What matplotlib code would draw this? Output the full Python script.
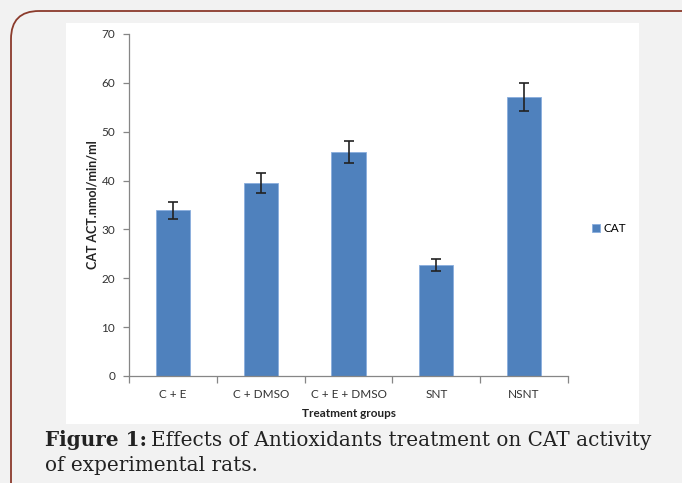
import matplotlib.pyplot as plt
from matplotlib.patches import Rectangle, FancyBboxPatch
import numpy as np

# data
groups = ['C + E', 'C + DMSO', 'C + E + DMSO', 'SNT', 'NSNT']
cat_values = [33.9, 39.5, 45.8, 22.7, 57.1]
cat_errors = [1.7, 2.0, 2.3, 1.2, 2.8]
y_ticks = [0, 10, 20, 30, 40, 50, 60, 70]

W, H = 682, 483
fig = plt.figure(figsize=(W / 100, H / 100), dpi=100)
fig.patch.set_facecolor('#f2f2f2')

# background layer in pixel coords
bg = fig.add_axes([0, 0, 1, 1])
bg.set_xlim(0, W)
bg.set_ylim(H, 0)
bg.axis('off')
bg.add_patch(FancyBboxPatch((11, 11), W + 40, H + 40,
                            boxstyle='round,pad=0,rounding_size=28',
                            facecolor='none', edgecolor='#8b3b2c', linewidth=1.3))
bg.add_patch(Rectangle((66, 23), 573, 401, facecolor='white', edgecolor='none'))

# caption
cap_font = 'DejaVu Serif'
cap_size = 14.4
t1 = bg.text(45, 446, 'Figure 1:', fontsize=cap_size, fontweight='bold',
             family=cap_font, color='#222222', va='baseline')
fig.canvas.draw()
x_end = bg.transData.inverted().transform(
    t1.get_window_extent(fig.canvas.get_renderer()))[1][0]
bg.text(x_end + 4, 446, 'Effects of Antioxidants treatment on CAT activity',
        fontsize=cap_size, family=cap_font, color='#222222', va='baseline')
bg.text(45, 471, 'of experimental rats.', fontsize=cap_size,
        family=cap_font, color='#222222', va='baseline')

# chart
ax = fig.add_axes([129 / W, 1 - 376 / H, 439 / W, 342 / H])
ax.set_facecolor('none')
x = np.arange(len(groups))
ax.bar(x, cat_values, width=0.39, color='#4f81bd', edgecolor='#8aaede',
       linewidth=0.6, label='CAT')
ax.errorbar(x, cat_values, yerr=cat_errors, fmt='none', ecolor='#222222',
            elinewidth=1.2, capsize=3.5, capthick=1.2)

ax.set_xlim(-0.5, len(groups) - 0.5)
ax.set_ylim(0, 70)
ax.set_yticks(y_ticks)
ax.set_xticks(x)
ax.set_xticklabels(groups)
ax.set_xticks(np.arange(-0.5, len(groups)), minor=True)
ax.tick_params(axis='x', which='major', length=0, pad=9)
ax.tick_params(axis='x', which='minor', length=5, color='#868686', width=0.9)
ax.tick_params(axis='y', length=4, color='#868686', width=0.9, pad=6)
for lab in ax.get_xticklabels() + ax.get_yticklabels():
    lab.set_family('Lato')
    lab.set_fontsize(8.5)
    lab.set_color('#333333')

for s in ['top', 'right']:
    ax.spines[s].set_visible(False)
for s in ['left', 'bottom']:
    ax.spines[s].set_color('#868686')
    ax.spines[s].set_linewidth(0.9)

ax.set_xlabel('Treatment groups', family='Lato', fontsize=8.5,
              fontweight='bold', color='#222222', labelpad=6)
ax.set_ylabel('CAT ACT.nmol/min/ml', family='Lato', fontsize=9,
              fontweight='bold', color='#222222', labelpad=2)

ax.legend(loc='center left', bbox_to_anchor=(1.03, 0.43), frameon=False,
          prop={'family': 'Lato', 'size': 8.5}, handlelength=0.7,
          handleheight=0.7, handletextpad=0.3)

fig.savefig('out.png', dpi=100, facecolor=fig.get_facecolor())
